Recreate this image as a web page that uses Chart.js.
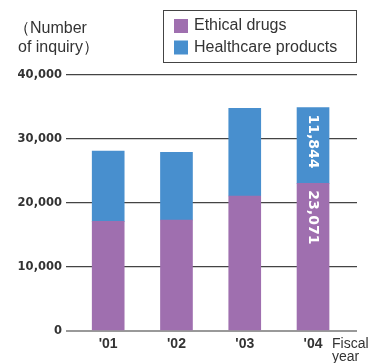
<!DOCTYPE html>
<html>
<head>
<meta charset="utf-8">
<script src="https://cdn.jsdelivr.net/npm/chart.js@4/dist/chart.umd.min.js"></script>
<style>
  html, body { margin: 0; padding: 0; background: #fff; }
  #wrap { width: 384px; height: 363px; position: relative; }
</style>
</head>
<body>
<div id="wrap"><canvas id="chart"></canvas></div>
<script>
var years = ["'01", "'02", "'03", "'04"];
var ethicalDrugs = [17140, 17350, 21100, 23071];
var healthcareProducts = [10960, 10570, 13700, 11844];
var yTicks = [0, 10000, 20000, 30000, 40000];
var labeledYears = ["'04"];

var purple = "#9F6FAF";
var blue = "#488FCE";
var textColor = "#333";
var font = "'Liberation Sans', Arial, sans-serif";
var wideFont = "'DejaVu Sans', sans-serif";

function points(values) {
  return values.map(function (v, i) { return { x: i + 1, y: v }; });
}

// legend box, axis captions and the rotated values on the last bar
var extras = {
  id: "extras",
  afterDatasetsDraw: function (chart) {
    var ctx = chart.ctx;
    ctx.save();
    ctx.fillStyle = "#fff";
    ctx.font = "bold 14px " + wideFont;
    ctx.textAlign = "left";
    ctx.textBaseline = "middle";
    chart.data.datasets.forEach(function (ds, d) {
      var meta = chart.getDatasetMeta(d);
      years.forEach(function (yr, i) {
        if (labeledYears.indexOf(yr) < 0) return;
        var bar = meta.data[i];
        var top = Math.min(bar.y, bar.base);
        ctx.save();
        ctx.translate(bar.x, top + 7);
        ctx.rotate(Math.PI / 2);
        ctx.fillText(ds.data[i].y.toLocaleString("en-US"), 0, 0);
        ctx.restore();
      });
    });
    ctx.restore();
  },
  afterDraw: function (chart) {
    var ctx = chart.ctx;
    ctx.save();
    ctx.strokeStyle = "#444";
    ctx.lineWidth = 1;
    ctx.strokeRect(163.5, 10.5, 193, 52);
    ctx.font = "16px " + font;
    ctx.textBaseline = "middle";
    ctx.textAlign = "left";
    chart.data.datasets.forEach(function (ds, d) {
      var y = 26 + d * 21.5;
      ctx.fillStyle = ds.backgroundColor;
      ctx.fillRect(174, y - 7, 14, 14);
      ctx.fillStyle = textColor;
      ctx.fillText(ds.label, 194, y);
    });
    ctx.fillText("（Number", 14, 29);
    ctx.fillText("of inquiry）", 18, 48);
    ctx.font = "14px " + font;
    ctx.fillText("Fiscal", 332, 344);
    ctx.fillText("year", 332, 357);
    ctx.restore();
  }
};

new Chart(document.getElementById("chart"), {
  type: "bar",
  data: {
    datasets: [
      { label: "Ethical drugs", data: points(ethicalDrugs), backgroundColor: purple, barThickness: 32 },
      { label: "Healthcare products", data: points(healthcareProducts), backgroundColor: blue, barThickness: 32 }
    ]
  },
  options: {
    responsive: true,
    maintainAspectRatio: false,
    animation: false,
    layout: { padding: { top: 75, right: 27, left: 0, bottom: 0 } },
    plugins: { legend: { display: false }, tooltip: { enabled: false } },
    scales: {
      x: {
        type: "linear",
        stacked: true,
        offset: false,
        min: 0.382,
        max: 4.644,
        grid: { display: false, drawTicks: false },
        border: { display: false },
        afterBuildTicks: function (s) {
          s.ticks = years.map(function (_, i) { return { value: i + 1 }; });
        },
        afterFit: function (s) { s.height = 32; },
        ticks: {
          padding: 5,
          color: textColor,
          font: { family: font, size: 14, weight: "bold" },
          callback: function (v) { return years[v - 1]; }
        }
      },
      y: {
        stacked: true,
        min: 0,
        max: 40000,
        afterBuildTicks: function (s) {
          s.ticks = yTicks.map(function (v) { return { value: v }; });
        },
        afterFit: function (s) { s.width = 66; },
        border: { display: false },
        grid: {
          drawTicks: false,
          color: function (c) { return c.tick && c.tick.value === 0 ? "#999" : "#444"; },
          lineWidth: function (c) { return c.tick && c.tick.value === 0 ? 2 : 1.2; }
        },
        ticks: {
          padding: 4,
          color: textColor,
          font: { family: wideFont, size: 11.5, weight: "bold" },
          callback: function (v) { return v.toLocaleString("en-US"); }
        }
      }
    }
  },
  plugins: [extras]
});
</script>
</body>
</html>
